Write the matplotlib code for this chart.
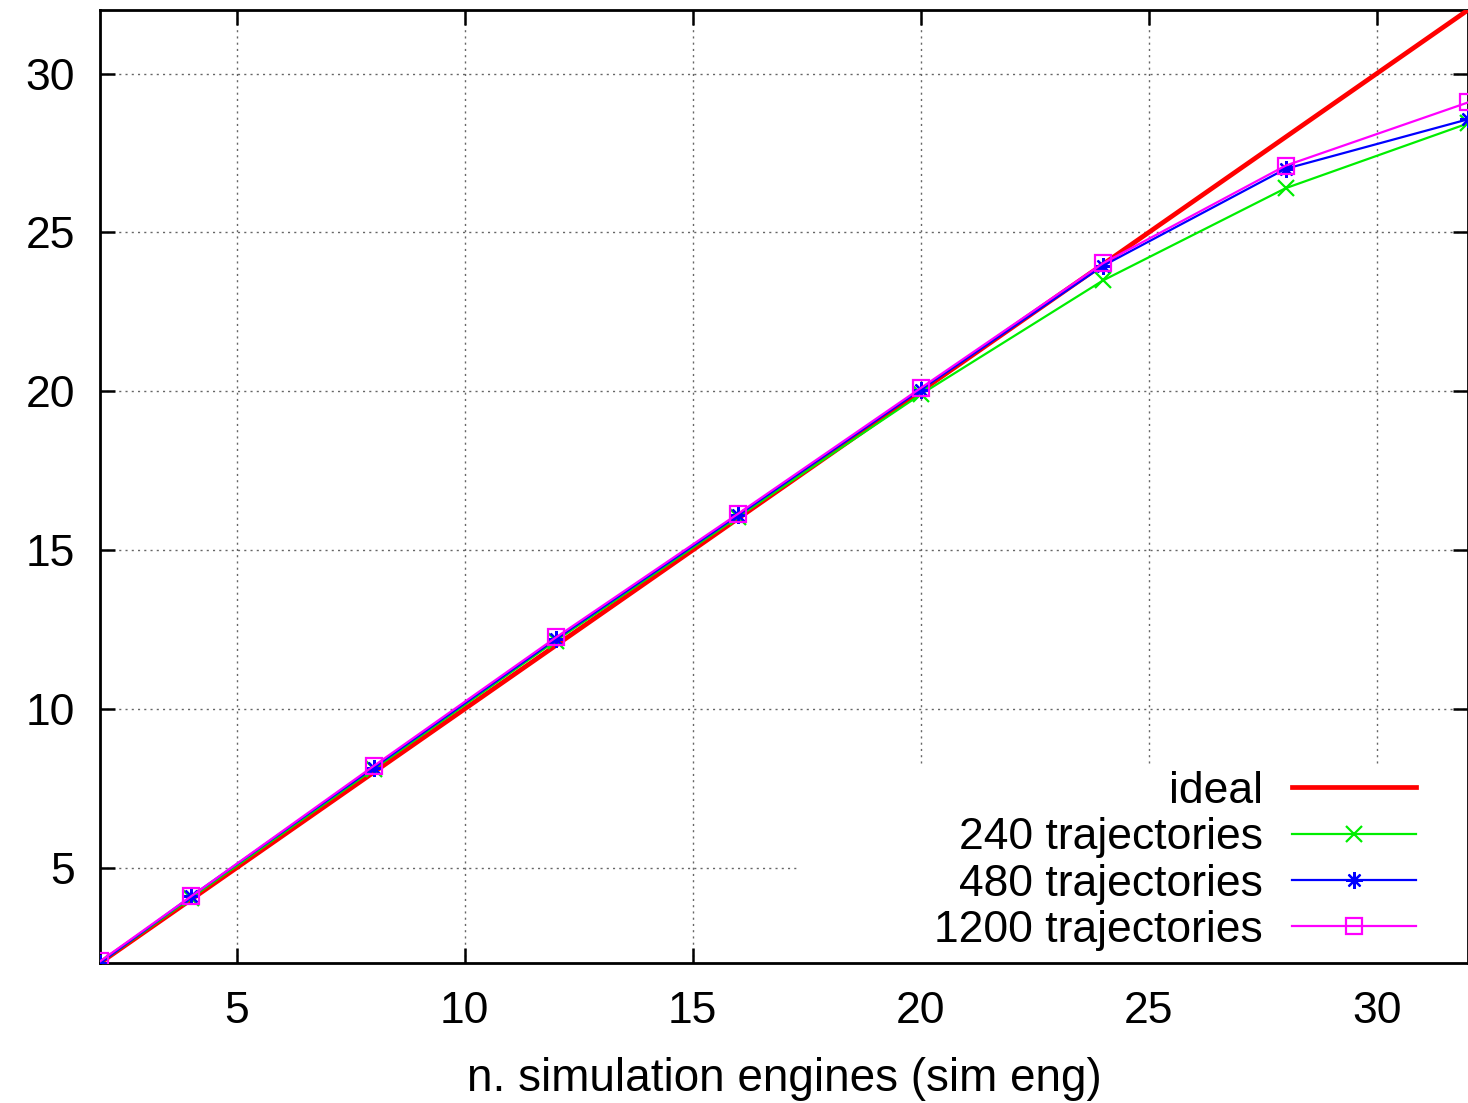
import matplotlib
matplotlib.use("Agg")
import matplotlib.pyplot as plt
from matplotlib.patches import Rectangle
from matplotlib.ticker import MultipleLocator

plt.rcParams['font.family'] = ['Liberation Sans', 'DejaVu Sans']

# number of simulation engines
engines = [2, 4, 8, 12, 16, 20, 24, 28, 32]

# speedup per trajectory count
ideal = [2, 4, 8, 12, 16, 20, 24, 28, 32]
traj_240 = [2.0, 4.05, 8.1, 12.15, 16.05, 19.9, 23.49, 26.39, 28.43]
traj_480 = [2.0, 4.1, 8.15, 12.2, 16.1, 20.05, 23.95, 27.0, 28.56]
traj_1200 = [2.05, 4.1, 8.2, 12.25, 16.15, 20.1, 24.03, 27.1, 29.09]

fig = plt.figure(figsize=(14.68, 11.03), dpi=100)
ax = fig.add_axes([100 / 1468, 140 / 1103, 1368 / 1468, 953 / 1103])

ax.plot(engines, ideal, color='#ff0000', lw=3.4, label='ideal', zorder=3)
ax.plot(engines, traj_240, color='#00ee00', lw=1.6, marker='x', ms=12, mew=1.6,
        label='240 trajectories', zorder=4)
ax.plot(engines, traj_480, color='#0000ff', lw=1.6, marker=(8, 2, 0), ms=12, mew=1.6,
        label='480 trajectories', zorder=5)
ax.plot(engines, traj_1200, color='#ff00ff', lw=1.6, marker='s', ms=11, mew=1.6,
        mfc='none', label='1200 trajectories', zorder=6)

ax.set_xlim(2, 32)
ax.set_ylim(2, 32)
ax.xaxis.set_major_locator(MultipleLocator(5))
ax.yaxis.set_major_locator(MultipleLocator(5))

ax.set_axisbelow(True)
ax.grid(True, color='0.4', lw=1.0, linestyle=(0, (1.5, 3)))
# key area blanks out the grid behind it
ax.add_patch(Rectangle((0.5095, 0.0), 0.4905, 0.208, transform=ax.transAxes,
                       facecolor='white', edgecolor='none', zorder=1))

for s in ax.spines.values():
    s.set_linewidth(2.0)
ax.tick_params(direction='in', length=11, width=1.8, top=True, right=True,
               labelsize=32)
ax.tick_params(axis='x', pad=20)
ax.tick_params(axis='y', pad=18)

ax.set_xlabel('n. simulation engines (sim eng)', fontsize=33, labelpad=18)

leg = ax.legend(loc='lower right', bbox_to_anchor=(0.975, -0.006), markerfirst=False,
                frameon=False, fontsize=32, handlelength=2.8, handletextpad=0.65,
                labelspacing=0.12, borderaxespad=0.0)
for h in leg.legend_handles:
    h.set_markevery([1])

fig.savefig('out.png', dpi=100)
